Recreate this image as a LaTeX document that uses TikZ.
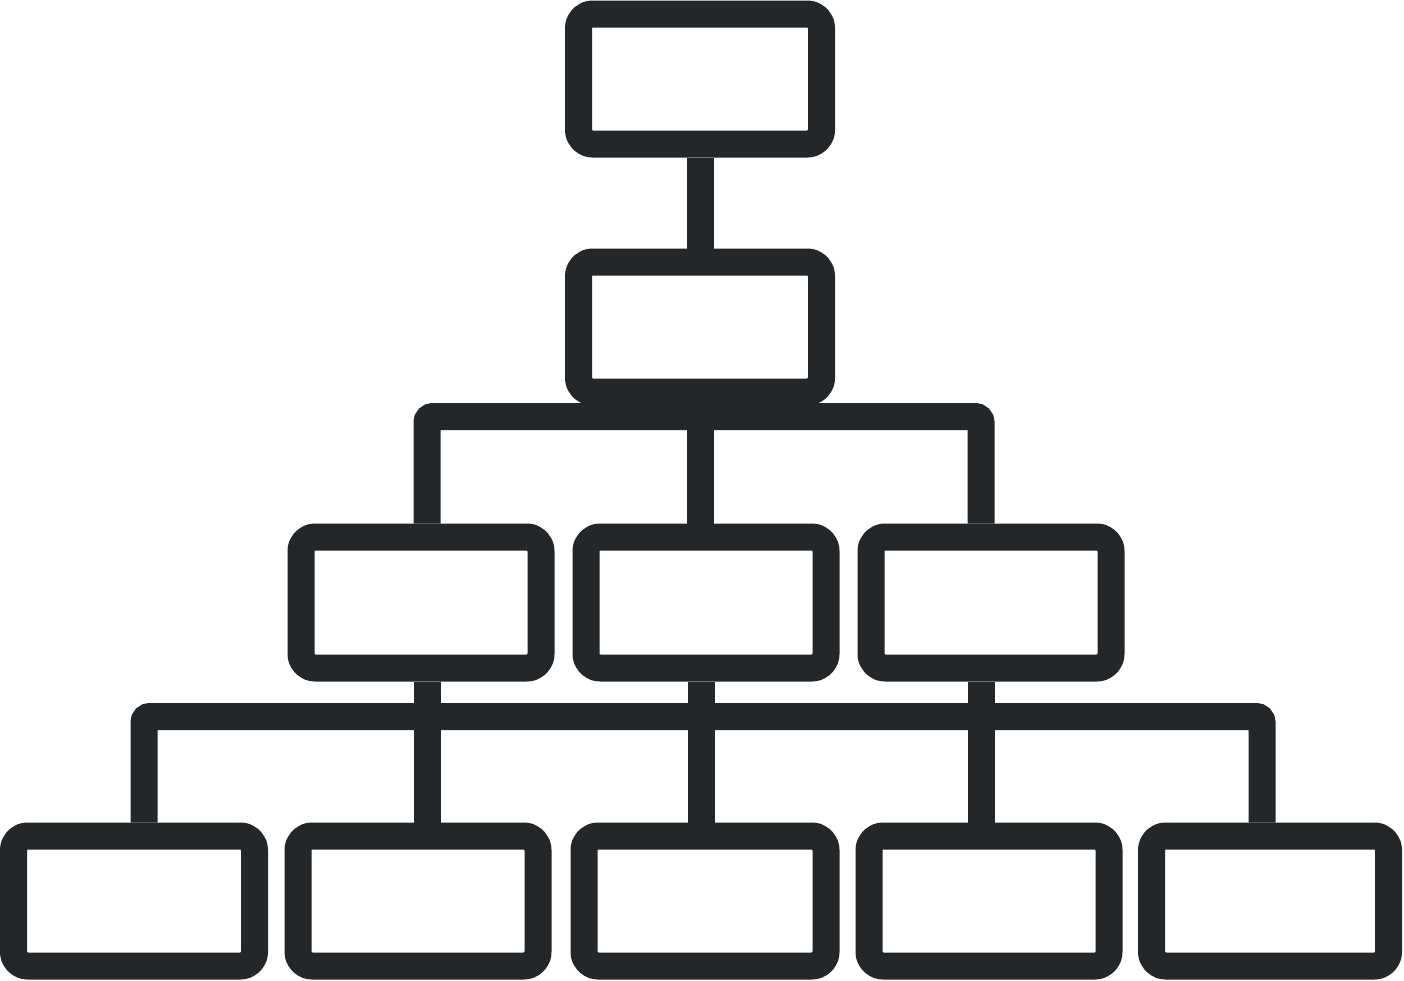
\documentclass[tikz,border=0pt]{standalone}
\usepackage{tikz}
\usetikzlibrary{positioning}
\definecolor{ink}{HTML}{232729}

\tikzset{
  box/.style={draw=ink, line width=27pt, rounded corners=14pt, line join=round, inner sep=0pt, fill=white},
  conn/.style={draw=ink, line width=27pt}
}

\begin{document}
\begin{tikzpicture}[x=1pt,y=-1pt]
  \useasboundingbox (0,0) rectangle (1404,980);

  \coordinate (a1) at (427,416.5);
  \coordinate (a2) at (981,416.5);
  \coordinate (c1) at (144,716.5);
  \coordinate (c5) at (1262,716.5);

  \node[box, minimum width=243pt, minimum height=130pt] (top) at (700,79)  {};
  \node[box, minimum width=243pt, minimum height=130pt] (mid) at (700,327) {};

  \node[box, minimum width=240pt, minimum height=131pt] (m1) at (421,602.5) {};
  \node[box, minimum width=240pt, minimum height=131pt] (m2) at (706,602.5) {};
  \node[box, minimum width=240pt, minimum height=131pt] (m3) at (991,602.5) {};

  \node[box, minimum width=241pt, minimum height=130pt] (b1) at (134,901)  {};
  \node[box, minimum width=240pt, minimum height=130pt] (b2) at (418,901)  {};
  \node[box, minimum width=242pt, minimum height=130pt] (b3) at (705,901)  {};
  \node[box, minimum width=240pt, minimum height=130pt] (b4) at (989,901)  {};
  \node[box, minimum width=237pt, minimum height=130pt] (b5) at (1270,901) {};

  \draw[conn] (top.south) -- (mid.north);
  \draw[conn, rounded corners=6pt] (m1.north -| a1) -- (a1) -- (a2) -- (m3.north -| a2);
  \draw[conn] (mid.south) -- (mid.south |- m2.north);

  \draw[conn, rounded corners=6pt] (b1.north -| c1) -- (c1) -- (c5) -- (b5.north -| c5);
  \foreach \x/\up/\dn in {427/m1/b2, 701/m2/b3, 981/m3/b4}
    \draw[conn] (\up.south -| \x,0) -- (\dn.north -| \x,0);

\end{tikzpicture}
\end{document}
